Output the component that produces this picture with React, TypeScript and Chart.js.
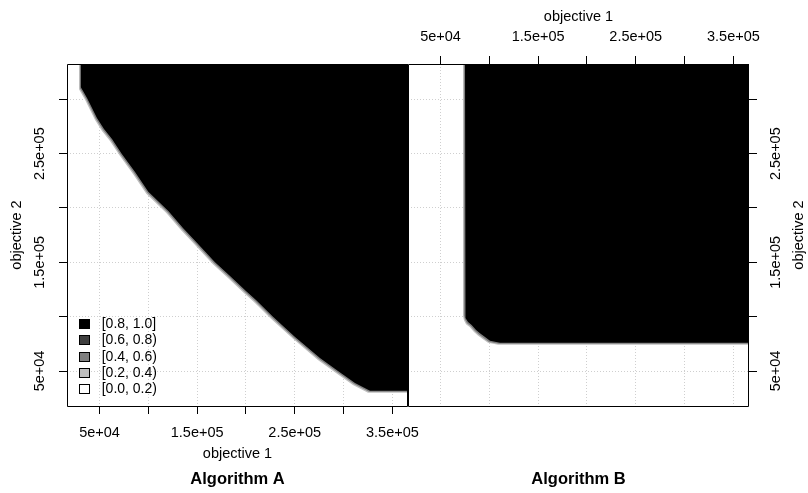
import React, { useEffect, useRef } from 'react';
import { Chart, registerables } from 'chart.js';

Chart.register(...registerables);

// ---------- axes ----------
const X_MIN = 16700;
const X_MAX = 366000;
const Y_MIN = 17800;
const Y_MAX = 332500;
const X_TICKS = [50000, 100000, 150000, 200000, 250000, 300000, 350000];
const X_TICK_LABELS = ['5e+04', '', '1.5e+05', '', '2.5e+05', '', '3.5e+05'];
const Y_TICKS = [50000, 100000, 150000, 200000, 250000, 300000];
const Y_TICK_LABELS = ['5e+04', '', '1.5e+05', '', '2.5e+05', ''];

// ---------- legend ----------
const LEVEL_LABELS = ['[0.8, 1.0]', '[0.6, 0.8)', '[0.4, 0.6)', '[0.2, 0.4)', '[0.0, 0.2)'];
const LEVEL_COLORS = ['#000000', '#3f3f3f', '#7f7f7f', '#bfbfbf', '#ffffff'];

// ---------- Algorithm A attainment surfaces ----------
const A_X_80 = [30700, 30700, 33100, 37200, 41300, 47400, 54600, 62800, 72700, 86400, 100000, 120500, 135500, 150000, 168300, 183700, 200000, 210300, 227700, 250000, 275800, 294300, 311700, 327100, 366000];
const A_Y_80 = [332500, 311300, 307700, 301200, 293900, 282800, 272700, 263500, 250000, 233100, 215000, 197200, 181600, 167800, 150000, 137400, 123600, 115400, 100000, 81600, 62000, 50000, 39000, 31900, 31900];
const A_X_40 = [29800, 29800, 32100, 36200, 40300, 46300, 53500, 61700, 71600, 85300, 98900, 119400, 134400, 148900, 167200, 182600, 198900, 209200, 226600, 248900, 274700, 293200, 310600, 326000, 366000];
const A_Y_40 = [332500, 310300, 306800, 300300, 293000, 281900, 271800, 262600, 249100, 232200, 214100, 196300, 180700, 166900, 149100, 136500, 122700, 114500, 99100, 80700, 61100, 49100, 38100, 31000, 31000];
const A_X_20 = [28900, 28900, 31200, 35300, 39300, 45400, 52500, 60700, 70600, 84300, 97900, 118400, 133400, 147900, 166200, 181600, 197900, 208200, 225600, 247900, 273700, 292200, 309600, 325000, 366000];
const A_Y_20 = [332500, 309400, 305900, 299400, 292100, 281000, 270900, 261700, 248200, 231300, 213200, 195400, 179800, 166000, 148200, 135600, 121800, 113600, 98200, 79800, 60200, 48200, 37200, 30100, 30100];

// ---------- Algorithm B attainment surfaces ----------
const B_X_80 = [75100, 75100, 76100, 78200, 81900, 86400, 90400, 95600, 100700, 110900, 366000];
const B_Y_80 = [332500, 103100, 98800, 95100, 92400, 87800, 84700, 81300, 77900, 76100, 76100];
const B_X_40 = [73800, 73800, 74900, 77000, 80700, 85200, 89200, 94400, 99500, 109700, 366000];
const B_Y_40 = [332500, 102000, 97700, 94000, 91300, 86700, 83600, 80200, 76800, 75000, 75000];
const B_X_20 = [72900, 72900, 74000, 76100, 79800, 84300, 88300, 93500, 98600, 108800, 366000];
const B_Y_20 = [332500, 101100, 96800, 93100, 90400, 85800, 82700, 79300, 75900, 74100, 74100];

const FONT = '"Liberation Sans", Arial, Helvetica, sans-serif';
const TEXT_SIZE = 14.5;

function surface(xs: number[], ys: number[], color: string) {
  return {
    data: xs.map((x, i) => ({ x, y: ys[i] })),
    borderWidth: 0,
    borderColor: color,
    backgroundColor: color,
    pointRadius: 0,
    tension: 0,
    fill: 'end',
  };
}

const gridOpts = {
  color: '#cfcfcf',
  lineWidth: 1,
  drawTicks: true,
  tickLength: 8,
  tickColor: '#000',
  tickWidth: 1,
};

function xScale(position: string, labelPad: number, titlePad: any, size: number) {
  return {
    type: 'linear',
    position,
    min: X_MIN,
    max: X_MAX,
    afterBuildTicks: (s: any) => {
      s.ticks = X_TICKS.map((v) => ({ value: v }));
    },
    afterFit: (s: any) => {
      s.height = size;
    },
    ticks: {
      autoSkip: false,
      maxRotation: 0,
      minRotation: 0,
      padding: labelPad,
      color: '#000',
      font: { family: FONT, size: TEXT_SIZE },
      callback: (v: any) => {
        const i = X_TICKS.indexOf(Number(v));
        return i >= 0 ? X_TICK_LABELS[i] : '';
      },
    },
    grid: gridOpts,
    border: { display: false, dash: [1, 2] },
    title: {
      display: true,
      text: 'objective 1',
      color: '#000',
      font: { family: FONT, size: TEXT_SIZE },
      padding: titlePad,
    },
  };
}

function yScale(position: string, size: number, showTitle: boolean) {
  return {
    type: 'linear',
    position,
    min: Y_MIN,
    max: Y_MAX,
    afterBuildTicks: (s: any) => {
      s.ticks = Y_TICKS.map((v) => ({ value: v }));
    },
    afterFit: (s: any) => {
      s.width = size;
    },
    ticks: {
      autoSkip: false,
      minRotation: 90,
      maxRotation: 90,
      crossAlign: 'center',
      padding: -7,
      color: '#000',
      font: { family: FONT, size: TEXT_SIZE },
      callback: (v: any) => {
        const i = Y_TICKS.indexOf(Number(v));
        return i >= 0 ? Y_TICK_LABELS[i] : '';
      },
    },
    grid: gridOpts,
    border: { display: false, dash: [1, 2] },
    title: {
      display: showTitle,
      text: 'objective 2',
      color: '#000',
      font: { family: FONT, size: TEXT_SIZE },
      padding: { top: 8.3, bottom: 0 },
    },
  };
}

const framePlugin = {
  id: 'panelFrame',
  afterDraw(chart: any) {
    const { ctx, chartArea: a } = chart;
    ctx.save();
    ctx.strokeStyle = '#000';
    ctx.lineWidth = 1;
    ctx.setLineDash([]);
    ctx.beginPath();
    ctx.moveTo(a.left + 0.5, a.top + 0.5);
    ctx.lineTo(a.right - 0.5, a.top + 0.5);
    ctx.lineTo(a.right - 0.5, a.bottom + 0.5);
    ctx.lineTo(a.left + 0.5, a.bottom + 0.5);
    ctx.closePath();
    ctx.stroke();
    ctx.restore();
  },
};

const legendPlugin = {
  id: 'eafLegend',
  afterDatasetsDraw(chart: any) {
    const { ctx, chartArea: a } = chart;
    ctx.save();
    ctx.font = `14px ${FONT}`;
    ctx.textBaseline = 'middle';
    ctx.textAlign = 'left';
    LEVEL_LABELS.forEach((lab, i) => {
      const top = Math.round(a.bottom - 87 + i * 16.25) + 0.5;
      const left = Math.round(a.left + 12) + 0.5;
      ctx.fillStyle = LEVEL_COLORS[i];
      ctx.fillRect(left, top, 10, 9);
      ctx.strokeStyle = '#000';
      ctx.lineWidth = 1;
      ctx.strokeRect(left, top, 10, 9);
      ctx.fillStyle = '#000';
      ctx.fillText(lab, a.left + 34.7, top + 5);
    });
    ctx.restore();
  },
};

const rightTitlePlugin = {
  id: 'rightTitle',
  afterDraw(chart: any) {
    const { ctx, chartArea: a } = chart;
    ctx.save();
    ctx.font = `${TEXT_SIZE}px ${FONT}`;
    ctx.fillStyle = '#000';
    ctx.textAlign = 'center';
    ctx.textBaseline = 'middle';
    ctx.translate(a.right + 50, (a.top + a.bottom) / 2);
    ctx.rotate(-Math.PI / 2);
    ctx.fillText('objective 2', 0, 0);
    ctx.restore();
  },
};

function titleOpts(text: string, padTop: number, padBottom: number) {
  return {
    display: true,
    text,
    position: 'bottom',
    fullSize: false,
    color: '#000',
    font: { family: FONT, size: 16.5, weight: 'bold' },
    padding: { top: padTop, bottom: padBottom },
  };
}

export default function App() {
  const leftRef = useRef<HTMLCanvasElement | null>(null);
  const rightRef = useRef<HTMLCanvasElement | null>(null);

  useEffect(() => {
    const left = new Chart(leftRef.current as HTMLCanvasElement, {
      type: 'line',
      data: {
        datasets: [
          surface(A_X_80, A_Y_80, LEVEL_COLORS[0]),
          surface(A_X_40, A_Y_40, LEVEL_COLORS[2]),
          surface(A_X_20, A_Y_20, LEVEL_COLORS[3]),
        ] as any,
      },
      options: {
        responsive: false,
        animation: false,
        devicePixelRatio: 1,
        events: [],
        layout: { padding: { top: 64, right: 32, left: 0, bottom: 0 } },
        plugins: {
          legend: { display: false },
          tooltip: { enabled: false },
          title: titleOpts('Algorithm A', 5.1, 4.1) as any,
        },
        scales: {
          x: xScale('bottom', 10.3, { top: 0, bottom: 1.3 }, 58) as any,
          y: yScale('left', 67, true) as any,
        },
      },
      plugins: [framePlugin, legendPlugin],
    });

    const right = new Chart(rightRef.current as HTMLCanvasElement, {
      type: 'line',
      data: {
        datasets: [
          surface(B_X_80, B_Y_80, LEVEL_COLORS[0]),
          surface(B_X_40, B_Y_40, LEVEL_COLORS[2]),
          surface(B_X_20, B_Y_20, LEVEL_COLORS[3]),
        ] as any,
      },
      options: {
        responsive: false,
        animation: false,
        devicePixelRatio: 1,
        events: [],
        layout: { padding: { top: 0, right: 0, left: 1, bottom: 0 } },
        plugins: {
          legend: { display: false },
          tooltip: { enabled: false },
          title: titleOpts('Algorithm B', 63.1, 4.1) as any,
        },
        scales: {
          x: xScale('top', 10.6, { top: 8, bottom: 0 }, 64) as any,
          y: yScale('right', 59, false) as any,
        },
      },
      plugins: [framePlugin, rightTitlePlugin],
    });

    return () => {
      left.destroy();
      right.destroy();
    };
  }, []);

  return (
    <div style={{ position: 'absolute', left: 0, top: 0, width: 808, height: 493, background: '#fff', overflow: 'hidden' }}>
      <canvas
        ref={leftRef}
        width={440}
        height={493}
        style={{ position: 'absolute', left: 0, top: 0, width: 440, height: 493 }}
      />
      <canvas
        ref={rightRef}
        width={401}
        height={493}
        style={{ position: 'absolute', left: 407, top: 0, width: 401, height: 493 }}
      />
    </div>
  );
}
